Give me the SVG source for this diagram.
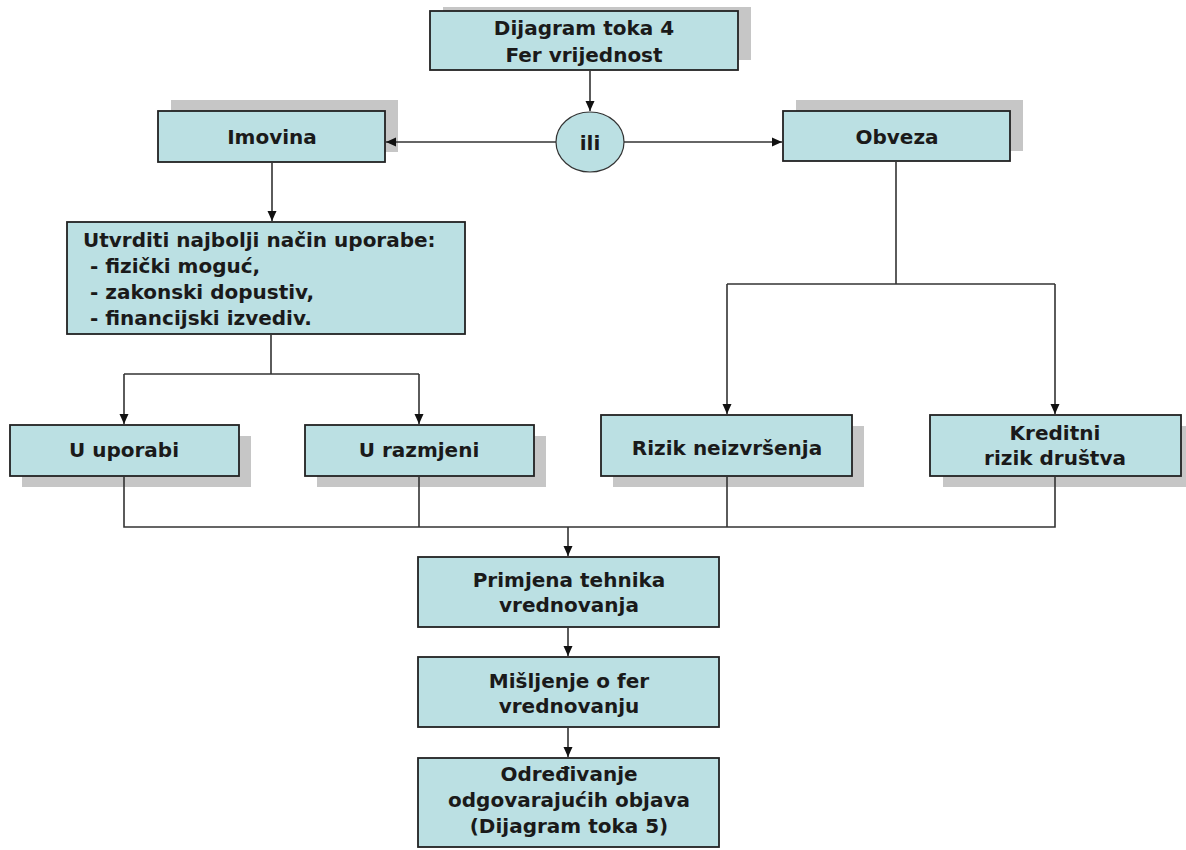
<svg xmlns="http://www.w3.org/2000/svg" width="1186" height="850" viewBox="0 0 1186 850">
<style>
.box{fill:#bbe0e3;stroke:#222;stroke-width:1.8}
.shadow{fill:#c6c6c6}
.t{font-family:"DejaVu Sans","Liberation Sans",sans-serif;font-weight:bold;font-size:20px;fill:#1a1a1a;text-anchor:middle}
.tl{font-family:"DejaVu Sans","Liberation Sans",sans-serif;font-weight:bold;font-size:20px;fill:#1a1a1a}
.c{fill:none;stroke:#333;stroke-width:1.6}
</style>
<defs>
<marker id="arr" viewBox="0 0 10 10" refX="10" refY="5" markerWidth="10" markerHeight="10" markerUnits="userSpaceOnUse" orient="auto">
<path d="M0,0.5 L10,5 L0,9.5 z" fill="#111"/>
</marker>
</defs>
<rect width="1186" height="850" fill="#fff"/>
<g id="n-top">
<rect class="shadow" x="443" y="7" width="308" height="53"/>
<rect class="box" x="430" y="11" width="308" height="59"/>
<text class="t" x="584" y="35">Dijagram toka 4</text>
<text class="t" x="584" y="62">Fer vrijednost</text>
</g>
<g id="n-ili">
<ellipse cx="590" cy="142" rx="34" ry="30" fill="#bbe0e3" stroke="#333" stroke-width="1.2"/>
<text class="t" x="590" y="150">ili</text>
</g>
<g id="n-imovina">
<rect class="shadow" x="171" y="100" width="227" height="52"/>
<rect class="box" x="158" y="111" width="227" height="51"/>
<text class="t" x="272" y="144">Imovina</text>
</g>
<g id="n-obveza">
<rect class="shadow" x="796" y="100" width="227" height="51"/>
<rect class="box" x="783" y="111" width="227" height="50"/>
<text class="t" x="897" y="144">Obveza</text>
</g>
<g id="n-utvrditi">
<rect class="box" x="67" y="222" width="398" height="112"/>
<text class="tl" x="83" y="247">Utvrditi najbolji način uporabe:</text>
<text class="tl" x="90" y="273">- fizički moguć,</text>
<text class="tl" x="90" y="299">- zakonski dopustiv,</text>
<text class="tl" x="90" y="325">- financijski izvediv.</text>
</g>
<g id="n-uporabi">
<rect class="shadow" x="22" y="436" width="229" height="51"/>
<rect class="box" x="10" y="425" width="229" height="51"/>
<text class="t" x="124" y="457">U uporabi</text>
</g>
<g id="n-razmjeni">
<rect class="shadow" x="317" y="436" width="229" height="51"/>
<rect class="box" x="305" y="425" width="229" height="51"/>
<text class="t" x="419" y="457">U razmjeni</text>
</g>
<g id="n-rizik">
<rect class="shadow" x="613" y="426" width="251" height="61"/>
<rect class="box" x="601" y="415" width="251" height="61"/>
<text class="t" x="727" y="455">Rizik neizvršenja</text>
</g>
<g id="n-kreditni">
<rect class="shadow" x="943" y="426" width="251" height="61"/>
<rect class="box" x="930" y="415" width="251" height="61"/>
<text class="t" x="1055" y="440">Kreditni</text>
<text class="t" x="1055" y="465">rizik društva</text>
</g>
<g id="n-primjena">
<rect class="box" x="418" y="557" width="301" height="70"/>
<text class="t" x="569" y="587">Primjena tehnika</text>
<text class="t" x="569" y="612">vrednovanja</text>
</g>
<g id="n-misljenje">
<rect class="box" x="418" y="657" width="301" height="70"/>
<text class="t" x="569" y="688">Mišljenje o fer</text>
<text class="t" x="569" y="713">vrednovanju</text>
</g>
<g id="n-odredivanje">
<rect class="box" x="418" y="758" width="301" height="89"/>
<text class="t" x="569" y="781">Određivanje</text>
<text class="t" x="569" y="807">odgovarajućih objava</text>
<text class="t" x="569" y="833">(Dijagram toka 5)</text>
</g>
<g id="connectors">
<line class="c" x1="590" y1="71" x2="590" y2="111" marker-end="url(#arr)"/>
<line class="c" x1="556" y1="142" x2="386" y2="142" marker-end="url(#arr)"/>
<line class="c" x1="624" y1="142" x2="782" y2="142" marker-end="url(#arr)"/>
<line class="c" x1="272" y1="163" x2="272" y2="221" marker-end="url(#arr)"/>
<line class="c" x1="271" y1="335" x2="271" y2="374"/>
<line class="c" x1="124" y1="374" x2="419" y2="374"/>
<line class="c" x1="124" y1="374" x2="124" y2="424" marker-end="url(#arr)"/>
<line class="c" x1="419" y1="374" x2="419" y2="424" marker-end="url(#arr)"/>
<line class="c" x1="896" y1="162" x2="896" y2="284"/>
<line class="c" x1="727" y1="284" x2="1055" y2="284"/>
<line class="c" x1="727" y1="284" x2="727" y2="414" marker-end="url(#arr)"/>
<line class="c" x1="1055" y1="284" x2="1055" y2="414" marker-end="url(#arr)"/>
<polyline class="c" points="124,477 124,527 1055,527 1055,477"/>
<line class="c" x1="419" y1="477" x2="419" y2="527"/>
<line class="c" x1="727" y1="477" x2="727" y2="527"/>
<line class="c" x1="568" y1="527" x2="568" y2="556" marker-end="url(#arr)"/>
<line class="c" x1="568" y1="628" x2="568" y2="656" marker-end="url(#arr)"/>
<line class="c" x1="568" y1="728" x2="568" y2="757" marker-end="url(#arr)"/>
</g>
</svg>
